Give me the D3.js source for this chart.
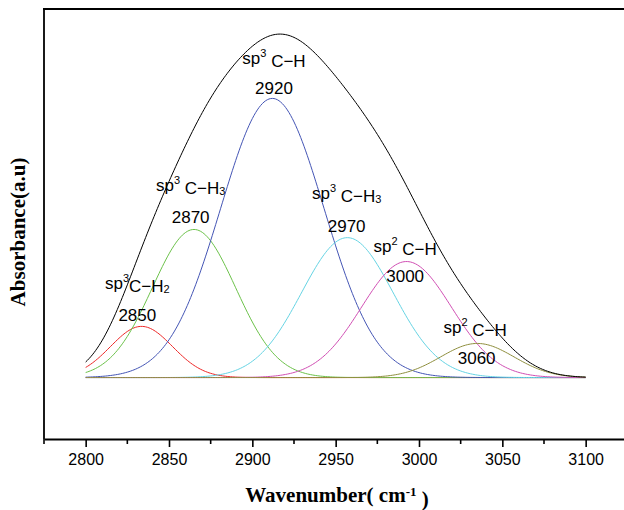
<!DOCTYPE html>
<html>
<head>
<meta charset="utf-8">
<script src="https://cdn.jsdelivr.net/npm/d3@7"></script>
<style>
  body { margin: 0; background: #fff; }
  svg { display: block; }
  .ann { font-family: "Liberation Sans", Arial, sans-serif; font-size: 17px; fill: #000; }
  .tick text { font-family: "Liberation Sans", Arial, sans-serif; font-size: 16px; }
  .title { font-family: "Liberation Serif", "Times New Roman", serif; font-weight: bold; font-size: 21px; }
</style>
</head>
<body>
<div class="container"></div>
<script>
// fitted peak components
const peakCenters = [2833.5, 2865, 2912, 2957, 2992.5, 3035];
const peakHeights = [0.150, 0.434, 0.818, 0.410, 0.340, 0.100];
const peakWidths  = [18.6, 25, 31, 27.5, 27, 22];   // gaussian sigma, cm-1
const peakColors  = ["#ee2a2a", "#6cc24a", "#4455b5", "#66d4e4", "#d14fb4", "#8f8f3e"];

// wavenumber grid the curves are drawn on
const xStart = 2800, xEnd = 3100, xStep = 1;

const xTicks = [2800, 2850, 2900, 2950, 3000, 3050, 3100];

// annotations: text, wavenumber, absorbance
const labels = [
  { sp: "3", tail: "C\u2212H", sub: "2", gap: false, x: 2831, y: 0.277 },
  { num: "2850", x: 2831, y: 0.183 },
  { sp: "3", tail: "C\u2212H", sub: "3", gap: true, x: 2863, y: 0.564 },
  { num: "2870", x: 2863, y: 0.47 },
  { sp: "3", tail: "C\u2212H", sub: "", gap: true, x: 2913, y: 0.937 },
  { num: "2920", x: 2913, y: 0.846 },
  { sp: "3", tail: "C\u2212H", sub: "3", gap: true, x: 2956.6, y: 0.541 },
  { num: "2970", x: 2956.6, y: 0.444 },
  { sp: "2", tail: "C\u2212H", sub: "", gap: true, x: 2991.7, y: 0.386 },
  { num: "3000", x: 2991.7, y: 0.295 },
  { sp: "2", tail: "C\u2212H", sub: "", gap: true, x: 3033.7, y: 0.148 },
  { num: "3060", x: 3034.6, y: 0.057 }
];

const width = 624, height = 510;
const margin = { top: 9, right: -6, bottom: 71, left: 44 };

const svg = d3.select(".container").append("svg")
  .attr("width", width).attr("height", height);

const x = d3.scaleLinear().domain([2775, 3126.6])
  .range([margin.left, width - margin.right]);
const y = d3.scaleLinear().domain([-0.18, 1.08])
  .range([height - margin.bottom, margin.top]);

const grid = d3.range(xStart, xEnd + xStep / 2, xStep);
const components = peakCenters.map((c, i) =>
  grid.map(w => [w, peakHeights[i] * Math.exp(-((w - c) ** 2) / (2 * peakWidths[i] ** 2))]));
const total = grid.map((w, j) => [w, d3.sum(components, comp => comp[j][1])]);

const line = d3.line().x(d => x(d[0])).y(d => y(d[1]));

svg.append("g").selectAll("path")
  .data(components)
  .enter().append("path")
  .attr("d", line)
  .attr("fill", "none")
  .attr("stroke", (d, i) => peakColors[i])
  .attr("stroke-width", 1);

svg.append("path")
  .attr("d", line(total))
  .attr("fill", "none")
  .attr("stroke", "#000")
  .attr("stroke-width", 1);

// axes
const xAxis = d3.axisBottom(x).tickValues(xTicks).tickSize(8).tickSizeOuter(0).tickFormat(d3.format("d"));
const gx = svg.append("g")
  .attr("transform", "translate(0," + y.range()[0] + ")")
  .call(xAxis);
gx.select(".domain").attr("stroke-width", 1.8);
gx.selectAll(".tick line").attr("stroke-width", 1.6);
gx.selectAll(".tick text").attr("dy", "0.95em");

svg.append("g")
  .attr("transform", "translate(0," + y.range()[0] + ")")
  .selectAll("line")
  .data(d3.range(2775, 3126, 50))
  .enter().append("line")
  .attr("x1", d => x(d)).attr("x2", d => x(d))
  .attr("y1", 0).attr("y2", 5)
  .attr("stroke", "#000").attr("stroke-width", 1.6);

svg.append("line")
  .attr("x1", x.range()[0]).attr("x2", x.range()[0])
  .attr("y1", y.range()[1]).attr("y2", y.range()[0])
  .attr("stroke", "#000").attr("stroke-width", 1.8);
svg.append("line")
  .attr("x1", x.range()[0] - 1).attr("x2", width)
  .attr("y1", y.range()[1]).attr("y2", y.range()[1])
  .attr("stroke", "#000").attr("stroke-width", 2.2);

// annotations
labels.forEach(l => {
  const t = svg.append("text").attr("class", "ann")
    .attr("x", x(l.x)).attr("y", y(l.y))
    .attr("text-anchor", "middle").attr("dominant-baseline", "central");
  if (l.num) { t.text(l.num); return; }
  t.append("tspan").text("sp");
  t.append("tspan").text(l.sp).attr("dy", "-0.45em").style("font-size", "11px");
  t.append("tspan").text((l.gap ? " " : "") + l.tail).attr("dy", "0.45em");
  if (l.sub) t.append("tspan").text(l.sub).attr("dy", "0.3em").style("font-size", "11px");
});

// titles
const xt = svg.append("text").attr("class", "title")
  .attr("x", 337).attr("y", 502)
  .attr("text-anchor", "middle");
xt.append("tspan").text("Wavenumber( cm");
xt.append("tspan").text("-1").attr("dy", "-0.5em").style("font-size", "13px");
xt.append("tspan").text(" )").attr("dy", "0.5em");

svg.append("text").attr("class", "title")
  .attr("transform", "translate(18,232) rotate(-90)")
  .attr("text-anchor", "middle").attr("dominant-baseline", "central")
  .text("Absorbance(a.u)");
</script>
</body>
</html>
